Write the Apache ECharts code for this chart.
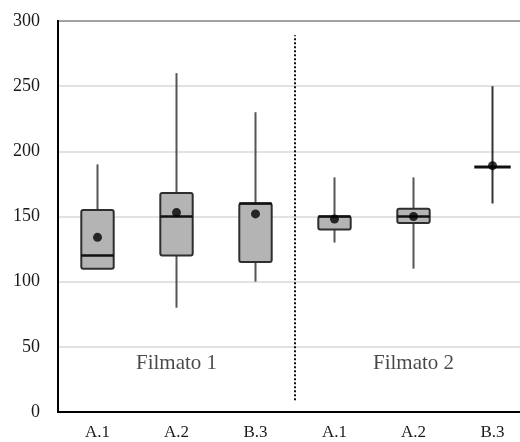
<!DOCTYPE html>
<html><head><meta charset="utf-8">
<script src="https://cdn.jsdelivr.net/npm/echarts@6/dist/echarts.min.js"></script>
<style>html,body{margin:0;padding:0;background:#fff;overflow:hidden;width:520px;height:442px}#c{width:532px;height:442px}</style>
</head><body><div id="c"></div>
<script>
const categories = ['A.1', 'A.2', 'B.3', 'A.1', 'A.2', 'B.3'];
const whiskerLow = [110, 80, 100, 130, 110, 160];
const q1 = [110, 120, 115, 140, 145, 188];
const median = [120, 150, 160, 150, 150, 188];
const q3 = [155, 168, 160, 150, 156, 188];
const whiskerHigh = [190, 260, 230, 180, 180, 250];
const means = [134, 153, 152, 148, 150, 189];
const groupNames = ['Filmato 1', 'Filmato 2'];
const yTicks = [0, 50, 100, 150, 200, 250, 300];

const FONT = '"Liberation Serif", "DejaVu Serif", serif';
const boxData = categories.map((c, i) => [i, whiskerLow[i], q1[i], median[i], q3[i], whiskerHigh[i]]);
const meanData = means.map((v, i) => [i, v]);
const perGroup = categories.length / groupNames.length;
const groupData = groupNames.map((n, g) => ({ name: n, value: [g * perGroup + perGroup / 2, 37] }));

const chart = echarts.init(document.getElementById('c'), null, { renderer: 'canvas' });
chart.setOption({
  animation: false,
  backgroundColor: '#fff',
  grid: { left: 58, top: 21, bottom: 30, right: 0, show: true, borderColor: '#000', borderWidth: 2, backgroundColor: 'transparent' },
  xAxis: [
    {
      type: 'category', data: categories,
      axisLine: { lineStyle: { color: '#000', width: 2 } },
      axisTick: { show: false },
      axisLabel: { color: '#1a1a1a', fontFamily: FONT, fontSize: 17, margin: 12 }
    },
    { type: 'value', min: 0, max: categories.length, show: false }
  ],
  yAxis: {
    type: 'value', min: yTicks[0], max: yTicks[yTicks.length - 1], interval: 50,
    axisLine: { show: true, lineStyle: { color: '#000', width: 2 } },
    axisTick: { show: false },
    splitLine: { lineStyle: { color: '#d9d9d9', width: 1.5 } },
    axisLabel: { color: '#1a1a1a', fontFamily: FONT, fontSize: 18, margin: 18 }
  },
  series: [
    {
      type: 'line', xAxisIndex: 1, data: [[perGroup, 9], [perGroup, 289]],
      symbol: 'none', lineStyle: { color: '#111', width: 2, type: [2, 2] }, z: 1
    },
    {
      type: 'custom', xAxisIndex: 0, data: boxData, z: 3,
      renderItem: function (params, api) {
        const i = api.value(0);
        const lo = api.coord([i, api.value(1)]);
        const a = api.coord([i, api.value(2)]);
        const m = api.coord([i, api.value(3)]);
        const b = api.coord([i, api.value(4)]);
        const hi = api.coord([i, api.value(5)]);
        const w = api.size([1, 0])[0] * 0.41;
        const x = lo[0];
        const flat = api.value(2) === api.value(4);
        return {
          type: 'group',
          children: [
            { type: 'line', shape: { x1: x, y1: lo[1], x2: x, y2: hi[1] }, style: { stroke: flat ? '#333' : '#555', lineWidth: 2 } },
            { type: 'rect', shape: { x: x - w / 2, y: b[1], width: w, height: a[1] - b[1], r: 2 }, style: { fill: '#b4b4b4', stroke: '#2e2e2e', lineWidth: 2 } },
            { type: 'line', shape: { x1: x - w / 2 - (flat ? 2 : 0), y1: m[1], x2: x + w / 2 + (flat ? 2 : 0), y2: m[1] }, style: { stroke: '#111', lineWidth: flat ? 3 : 2.5 } }
          ]
        };
      }
    },
    {
      type: 'scatter', xAxisIndex: 0, data: meanData, symbol: 'circle', symbolSize: 9,
      itemStyle: { color: '#000' }, z: 4
    },
    {
      type: 'scatter', xAxisIndex: 1, data: groupData, symbolSize: 0, z: 5,
      label: { show: true, position: 'inside', formatter: '{b}', color: '#1a1a1a', fontFamily: FONT, fontSize: 21 }
    }
  ]
});
</script></body></html>
